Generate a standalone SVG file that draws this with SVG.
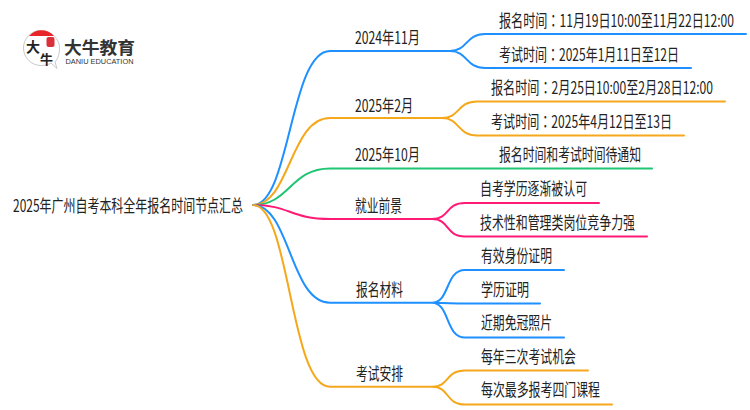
<svg xmlns="http://www.w3.org/2000/svg" width="750" height="410" viewBox="0 0 750 410">
<style>
text{font-family:"Noto Sans CJK SC","Noto Sans",sans-serif;fill:#222;font-size:17px}
.t{font-family:"Noto Sans CJK TC","Noto Sans CJK SC",sans-serif}
.c{fill:none;stroke-width:2;stroke-linecap:round}
.b{stroke:#1e90ff}.o{stroke:#f5a81c}.g{stroke:#1fc573}.p{stroke:#ff1a75}
</style>
<rect width="750" height="410" fill="#fff"/>
<g id="connectors">
<path class="c b" d="M253,205C290,205 290,51 330,51H450C468,51 465,34 485,34H746M450,51C468,51 465,68 485,68H691"/>
<path class="c o" d="M253,205C290,205 290,118 330,118H442C460,118 457,101.500 477,101.500H725M442,118C460,118 457,135.500 477,135.500H684"/>
<path class="c g" d="M253,205C290,205 290,168.500 330,168.500H652"/>
<path class="c p" d="M253,205C290,205 290,219 330,219H432C450,219 445,203 465,203H599M432,219C450,219 445,236.500 465,236.500H647"/>
<path class="c b" d="M253,205C290,205 290,302.700 330,302.700H432C450,302.700 445,270 465,270H564M432,302.700C450,302.700 450,303.500 465,303.500H540M432,302.700C450,302.700 445,337.500 465,337.500H564"/>
<path class="c o" d="M253,205C290,205 290,386.700 330,386.700H432C450,386.700 445,370.500 465,370.500H588M432,386.700C450,386.700 445,404.500 465,404.500H612"/>
</g>
<g id="logo">
<path d="M41,30.500C31,30.500 23.500,38.500 23.500,48C23.500,58 31.500,65.500 41,65.500C45,65.500 49,64.500 51,63L57,68.500L55,62C58.500,58 59.500,53 59.500,48C59.500,38.500 51,30.500 41,30.500Z" fill="#fff" stroke="#bbb" stroke-width=".8"/>
<path d="M29,36C33,32 37,30.300 41,30.300C46,30.300 50,32 54,36Z" fill="#e8262a"/>
<rect x="46.500" y="37" width="8" height="10" rx="2" fill="#d9303a"/>
<text x="26" y="52" style="font-size:14px;font-weight:700">大</text>
<text x="40" y="64" style="font-size:13px;font-weight:700">牛</text>
<text x="64" y="53.500" textLength="71" lengthAdjust="spacingAndGlyphs" style="font-size:17.500px;font-weight:700;fill:#333">大牛教育</text>
<text x="65.500" y="64" textLength="68" lengthAdjust="spacingAndGlyphs" style="font-size:7.500px;font-family:'Liberation Sans',sans-serif;fill:#333">DANIU EDUCATION</text>
</g>
<g id="root"><text transform="translate(13,212) scale(.7,1)" textLength="328.600" lengthAdjust="spacingAndGlyphs">2025年广州自考本科全年报名时间节点汇总</text></g>
<g id="n1"><text transform="translate(355,44) scale(.7,1)" textLength="92.900" lengthAdjust="spacingAndGlyphs">2024年11月</text></g>
<g id="n1a"><text transform="translate(499,27) scale(.7,1)" textLength="335.700" lengthAdjust="spacingAndGlyphs">报名时间<tspan class="t">：</tspan>11月19日10:00至11月22日12:00</text></g>
<g id="n1b"><text transform="translate(499,61) scale(.7,1)" textLength="257.100" lengthAdjust="spacingAndGlyphs">考试时间<tspan class="t">：</tspan>2025年1月11日至12日</text></g>
<g id="n2"><text transform="translate(355,112) scale(.7,1)" textLength="82.900" lengthAdjust="spacingAndGlyphs">2025年2月</text></g>
<g id="n2a"><text transform="translate(491,94) scale(.7,1)" textLength="317.100" lengthAdjust="spacingAndGlyphs">报名时间<tspan class="t">：</tspan>2月25日10:00至2月28日12:00</text></g>
<g id="n2b"><text transform="translate(491,128) scale(.7,1)" textLength="258.600" lengthAdjust="spacingAndGlyphs">考试时间<tspan class="t">：</tspan>2025年4月12日至13日</text></g>
<g id="n3"><text transform="translate(355,161) scale(.7,1)" textLength="92.900" lengthAdjust="spacingAndGlyphs">2025年10月</text></g>
<g id="n3a"><text transform="translate(499,161) scale(.7,1)" textLength="202.900" lengthAdjust="spacingAndGlyphs">报名时间和考试时间待通知</text></g>
<g id="n4"><text transform="translate(355,212) scale(.7,1)" textLength="67.100" lengthAdjust="spacingAndGlyphs">就业前景</text></g>
<g id="n4a"><text transform="translate(480,195) scale(.7,1)" textLength="152.900" lengthAdjust="spacingAndGlyphs">自考学历逐渐被认可</text></g>
<g id="n4b"><text transform="translate(480,229) scale(.7,1)" textLength="221.400" lengthAdjust="spacingAndGlyphs">技术性和管理类岗位竞争力强</text></g>
<g id="n5"><text transform="translate(356,296) scale(.7,1)" textLength="67.100" lengthAdjust="spacingAndGlyphs">报名材料</text></g>
<g id="n5a"><text transform="translate(481,262) scale(.7,1)" textLength="101.400" lengthAdjust="spacingAndGlyphs">有效身份证明</text></g>
<g id="n5b"><text transform="translate(481,296) scale(.7,1)" textLength="68.600" lengthAdjust="spacingAndGlyphs">学历证明</text></g>
<g id="n5c"><text transform="translate(481,329) scale(.7,1)" textLength="101.400" lengthAdjust="spacingAndGlyphs">近期免冠照片</text></g>
<g id="n6"><text transform="translate(356,380) scale(.7,1)" textLength="67.100" lengthAdjust="spacingAndGlyphs">考试安排</text></g>
<g id="n6a"><text transform="translate(481,363) scale(.7,1)" textLength="135.700" lengthAdjust="spacingAndGlyphs">每年三次考试机会</text></g>
<g id="n6b"><text transform="translate(481,396) scale(.7,1)" textLength="170" lengthAdjust="spacingAndGlyphs">每次最多报考四门课程</text></g>
</svg>
